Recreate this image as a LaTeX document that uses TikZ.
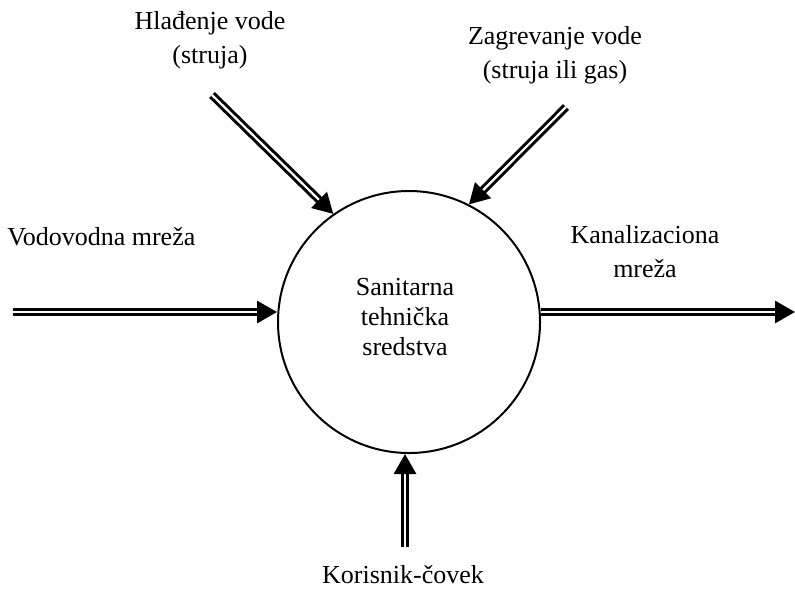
\documentclass[tikz,border=0pt]{standalone}
\usepackage{fontspec}
\setmainfont{Liberation Serif}
\usetikzlibrary{arrows.meta}
\begin{document}
\begin{tikzpicture}[x=0.5pt,y=-0.5pt,
  flow/.style={double, line width=1.5pt, double distance=1.1pt,
    -{Triangle[length=10pt,width=11pt]}},
  lbl/.style={align=center, inner sep=0pt, font=\fontsize{13}{17}\selectfont},
  ring/.style={circle, draw, line width=1pt, minimum size=131pt, inner sep=0pt}]
\useasboundingbox (0,0) rectangle (795,591);
\node[ring] (c) at (409,322) {};
\node[lbl, font=\fontsize{13}{15}\selectfont] (t) at (405,317) {Sanitarna\\tehnička\\sredstva};
\coordinate (pl) at (13,312);
\coordinate (pr) at (795,312);
\coordinate (ptl) at (212,95);
\coordinate (ptr) at (566,107);
\coordinate (pb) at (405,547);
\draw[flow] (pl) -- (c.west |- pl);
\draw[flow] (c.east |- pr) -- (pr);
\draw[flow] (ptl) -- (c.125.7);
\draw[flow] (ptr) -- (c.63.1);
\draw[flow] (pb) -- (c.south -| pb);
\node[lbl] (l1) at (210,40) {Hlađenje vode\\(struja)};
\node[lbl] (l2) at (555,55) {Zagrevanje vode\\(struja ili gas)};
\node[lbl, anchor=west] (l3) at (7,237) {Vodovodna mreža};
\node[lbl] (l4) at (645,252) {Kanalizaciona\\mreža};
\node[lbl] (l5) at (403,575) {Korisnik-čovek};
\end{tikzpicture}
\end{document}
